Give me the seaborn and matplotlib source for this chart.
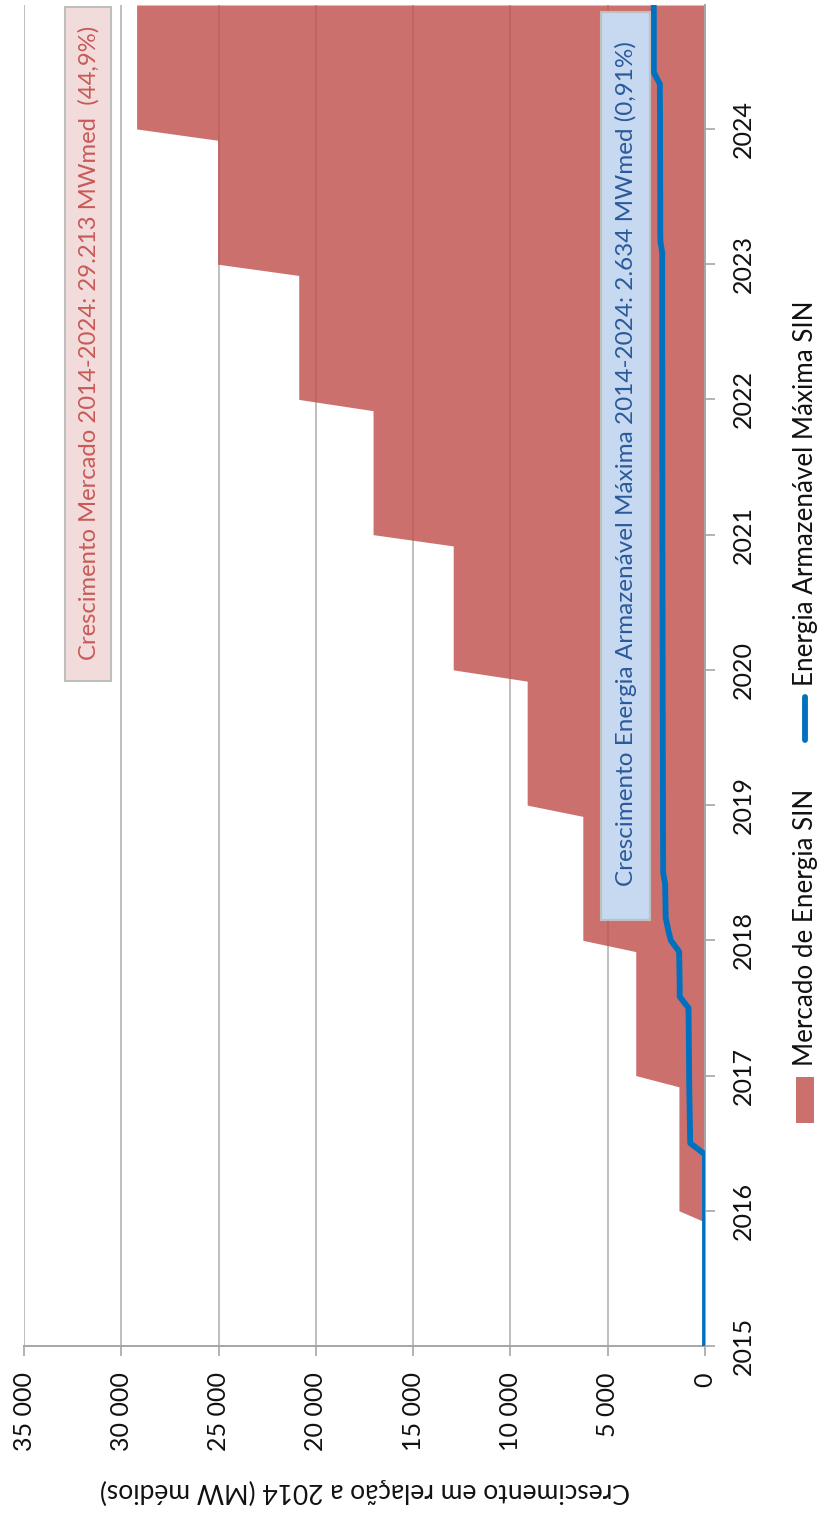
import numpy as np
import pandas as pd
import matplotlib
matplotlib.use("Agg")
import matplotlib.pyplot as plt
from matplotlib.patches import Rectangle
from matplotlib.lines import Line2D
import seaborn as sns

# ---- data -------------------------------------------------------------
anos = [2015, 2016, 2017, 2018, 2019, 2020, 2021, 2022, 2023, 2024]

# market growth relative to 2014 (MW médios), one level per year
mercado_anual = [0, 1340, 3560, 6280, 9140, 12940, 17060, 20880, 25050, 29213]

# growth of maximum storable energy relative to 2014 (MW médios), monthly
energia_armazenavel = [
    0, 0, 0, 0, 0, 0, 0, 0, 0, 0, 0, 0,                                  # 2015
    0, 0, 0, 0, 0, 0, 760, 770, 780, 790, 800, 810,                      # 2016
    815, 820, 825, 830, 835, 840, 850, 1300, 1300, 1310, 1320, 1330,     # 2017
    1760, 1900, 2020, 2030, 2040, 2050, 2150, 2150, 2155, 2155, 2160, 2160,  # 2018
    2160, 2160, 2165, 2165, 2165, 2170, 2170, 2170, 2170, 2175, 2175, 2175,  # 2019
    2175, 2175, 2180, 2180, 2180, 2180, 2185, 2185, 2185, 2185, 2185, 2190,  # 2020
    2190, 2190, 2190, 2190, 2190, 2190, 2195, 2195, 2195, 2195, 2195, 2195,  # 2021
    2195, 2195, 2195, 2195, 2200, 2200, 2200, 2200, 2200, 2200, 2200, 2200,  # 2022
    2200, 2200, 2290, 2300, 2300, 2300, 2300, 2305, 2305, 2305, 2310, 2310,  # 2023
    2310, 2310, 2315, 2320, 2320, 2630, 2630, 2630, 2630, 2630, 2630, 2634,  # 2024
]

valores_eixo = [0, 5000, 10000, 15000, 20000, 25000, 30000, 35000]

rotulo_mercado = "Crescimento Mercado 2014-2024: 29.213 MWmed  (44,9%)"
rotulo_energia = ("Crescimento Energia Armazenável Máxima 2014-2024: "
                  "2.634 MWmed (0,91%)")
legenda_mercado = "Mercado de Energia SIN"
legenda_energia = "Energia Armazenável Máxima SIN"
titulo_eixo = "Crescimento em relação a 2014 (MW médios)"

df = pd.DataFrame({
    "mes": np.arange(len(energia_armazenavel)),
    "mercado": np.repeat(mercado_anual, 12),
    "energia": energia_armazenavel,
})

# ---- style ------------------------------------------------------------
sns.set_theme(style="white")
plt.rcParams["font.family"] = ["Lato", "DejaVu Sans"]

VERMELHO = "#C0504D"
AZUL = "#0070C0"
CINZA = "#A6A6A6"
TEXTO = "#111111"

W, H = 824, 1513
fig = plt.figure(figsize=(W / 100, H / 100), dpi=100)


def fx(px):
    return px / W


def fy(py):
    return 1 - py / H


ax = fig.add_axes([fx(24), fy(1346), fx(705) - fx(24), fy(5) - fy(1346)])

# market area (filled towards the value axis)
ax.fill_betweenx(df["mes"], 0, df["mercado"], color=VERMELHO, alpha=0.82,
                 linewidth=0, zorder=2)

# storable energy line
sns.lineplot(data=df, x="energia", y="mes", orient="y", estimator=None,
             sort=True, color=AZUL, linewidth=4.2, ax=ax, zorder=3,
             legend=False)

ax.set_xlim(35000, 0)
ax.set_ylim(0, len(df) - 1)

ax.set_xticks(valores_eixo)
ax.set_xticklabels([f"{v:,}".replace(",", " ") for v in valores_eixo])
ax.set_yticks(np.arange(0, len(df), 12))
ax.set_yticklabels([str(a) for a in anos])
ax.yaxis.tick_right()

ax.grid(axis="x", color="#BEBEBE", linewidth=1.4)
ax.grid(axis="y", visible=False)
ax.set_axisbelow(True)

for lado in ("left", "top"):
    ax.spines[lado].set_visible(False)
for lado in ("bottom", "right"):
    ax.spines[lado].set_color(CINZA)
    ax.spines[lado].set_linewidth(1.4)

ax.tick_params(axis="x", bottom=True, direction="out", length=7, width=1.2,
               color=CINZA, labelsize=18, pad=12, labelrotation=90,
               labelcolor=TEXTO)
ax.tick_params(axis="y", right=True, left=False, direction="out", length=7,
               width=1.2, color=CINZA, labelsize=18, pad=12,
               labelrotation=90, labelcolor=TEXTO)
for lbl in ax.get_yticklabels():
    lbl.set_va("center")
    lbl.set_ha("left")

ax.set_ylabel("")
ax.set_xlabel(titulo_eixo, rotation=180, fontsize=19, color=TEXTO,
              labelpad=19)

# ---- annotation boxes ---------------------------------------------------
fig.add_artist(Rectangle((fx(65), fy(681)), fx(111) - fx(65), fy(7) - fy(681),
                         transform=fig.transFigure, facecolor="#F2DCDB",
                         edgecolor="#BFBFBF", linewidth=1.5, zorder=5))
fig.text(fx(89), fy(343), rotulo_mercado, rotation=90, ha="center",
         va="center", fontsize=17.2, color="#C85A57", zorder=6)

fig.add_artist(Rectangle((fx(601), fy(920)), fx(650) - fx(601),
                         fy(12) - fy(920), transform=fig.transFigure,
                         facecolor="#C6D9F1", edgecolor="#BFBFBF",
                         linewidth=1.5, zorder=5))
fig.text(fx(626), fy(464), rotulo_energia, rotation=90, ha="center",
         va="center", fontsize=17.5, color="#2A5A9C", zorder=6)

# ---- legend -------------------------------------------------------------
fig.add_artist(Rectangle((fx(796), fy(1123)), fx(814) - fx(796),
                         fy(1077) - fy(1123), transform=fig.transFigure,
                         facecolor=VERMELHO, alpha=0.82, edgecolor="none"))
fig.text(fx(805), fy(1066), legenda_mercado, rotation=90, ha="center",
         va="bottom", fontsize=18.7, color=TEXTO)
fig.add_artist(Line2D([fx(805), fx(805)], [fy(740), fy(697)],
                      transform=fig.transFigure, color=AZUL, linewidth=4.2,
                      solid_capstyle="round"))
fig.text(fx(805), fy(686), legenda_energia, rotation=90, ha="center",
         va="bottom", fontsize=18.7, color=TEXTO)

fig.savefig("out.png", dpi=100, facecolor="white")
